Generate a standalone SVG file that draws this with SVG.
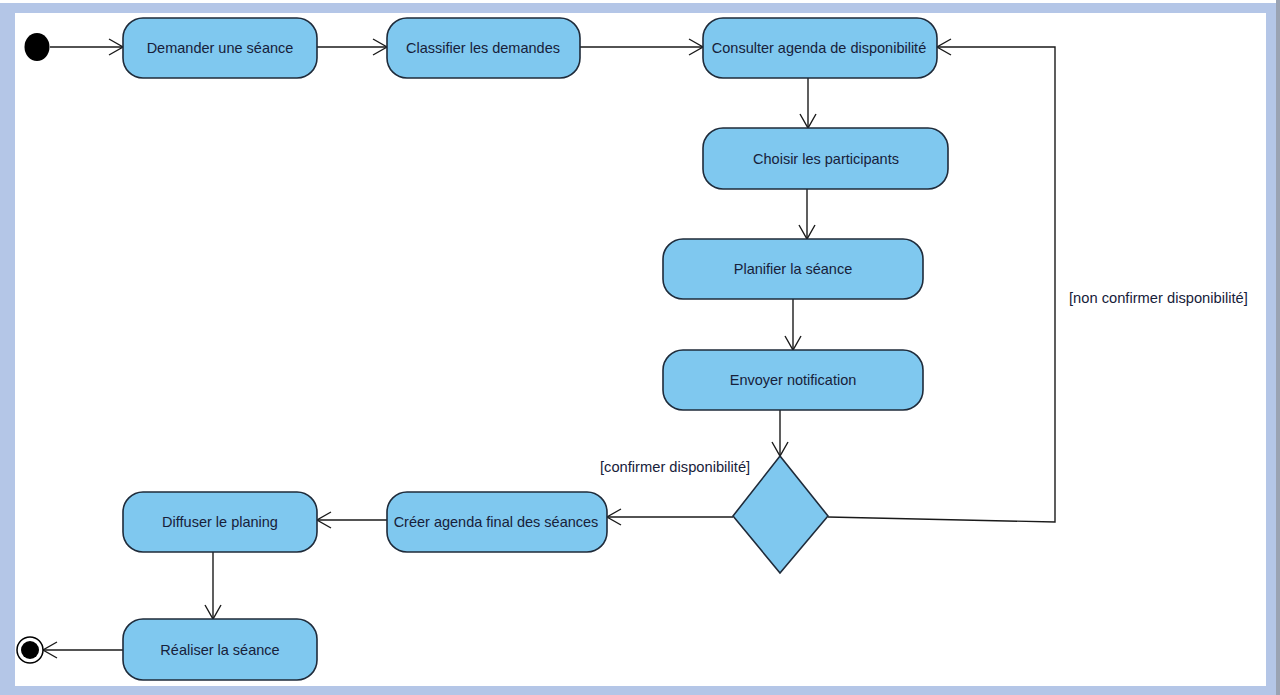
<svg xmlns="http://www.w3.org/2000/svg" width="1280" height="695" viewBox="0 0 1280 695">
  <defs>
    <style>
      .frame { fill: #b4c6e7; }
      .sheet { fill: #ffffff; }
      .action rect { fill: #7fc8ef; stroke: #1f2b3a; stroke-width: 1.6; }
      .action text, .guard { font-family: "Liberation Sans", Arial, sans-serif; font-size: 14.5px; fill: #17213a; }
      .action text { text-anchor: middle; dominant-baseline: central; }
      .guard { font-size: 14.7px; }
      .decision polygon { fill: #7fc8ef; stroke: #1f2b3a; stroke-width: 1.6; }
      #connectors path { fill: none; stroke: #1a1a1a; stroke-width: 1.4; marker-end: url(#open); }
    </style>
    <marker id="open" markerUnits="userSpaceOnUse" markerWidth="18" markerHeight="20" refX="15" refY="9" orient="auto">
      <path d="M1,1 L15,9 L1,17" fill="none" stroke="#1a1a1a" stroke-width="1.4"/>
    </marker>
  </defs>

  <!-- page frame -->
  <rect class="frame" x="0" y="3" width="1277" height="692"/>
  <rect x="1276" y="0" width="4" height="695" fill="#9aa3b3"/>
  <rect class="sheet" x="15" y="13" width="1251" height="673"/>

  <!-- connectors -->
  <g id="connectors">
    <path d="M50,47 H123"/>
    <path d="M317,47 H387"/>
    <path d="M580,47 H703"/>
    <path d="M808,78 V128"/>
    <path d="M807,189 V239"/>
    <path d="M793,299 V350"/>
    <path d="M780,410 V456"/>
    <path d="M733,517 H607"/>
    <path d="M387,520 H317"/>
    <path d="M213,552 V619"/>
    <path d="M123,650 H43"/>
    <path d="M828,517 L1055,522 V47 H937"/>
  </g>

  <!-- initial node -->
  <g id="start">
    <ellipse cx="37" cy="47" rx="12.5" ry="14" fill="#000"/>
  </g>

  <g id="demander" class="action">
    <rect x="123" y="18" width="194" height="60" rx="20"/>
    <text x="220" y="48">Demander une séance</text>
  </g>

  <g id="classifier" class="action">
    <rect x="387" y="18" width="193" height="60" rx="20"/>
    <text x="483" y="48">Classifier les  demandes</text>
  </g>

  <g id="consulter" class="action">
    <rect x="703" y="18" width="234" height="60" rx="20"/>
    <text x="819" y="48">Consulter agenda de disponibilité</text>
  </g>

  <g id="choisir" class="action">
    <rect x="703" y="128" width="245" height="61" rx="20"/>
    <text x="826" y="159">Choisir les participants</text>
  </g>

  <g id="planifier" class="action">
    <rect x="663" y="239" width="260" height="60" rx="20"/>
    <text x="793" y="269">Planifier la séance</text>
  </g>

  <g id="envoyer" class="action">
    <rect x="663" y="350" width="260" height="60" rx="20"/>
    <text x="793" y="380">Envoyer notification</text>
  </g>

  <g id="decision" class="decision">
    <polygon points="780,456 828,516 780,573 733,516"/>
  </g>

  <g id="creer" class="action">
    <rect x="387" y="492" width="220" height="60" rx="20"/>
    <text x="496" y="522">Créer agenda final des séances</text>
  </g>

  <g id="diffuser" class="action">
    <rect x="123" y="492" width="194" height="60" rx="20"/>
    <text x="220" y="522">Diffuser le planing</text>
  </g>

  <g id="realiser" class="action">
    <rect x="123" y="619" width="194" height="61" rx="20"/>
    <text x="220" y="650">Réaliser la séance</text>
  </g>

  <!-- final node -->
  <g id="end">
    <circle cx="30" cy="650" r="13" fill="#fff" stroke="#000" stroke-width="1.5"/>
    <circle cx="30" cy="650" r="9" fill="#000"/>
  </g>

  <!-- guards -->
  <g id="guards">
    <text class="guard" x="600" y="472">[confirmer disponibilité]</text>
    <text class="guard" x="1069" y="303">[non confirmer disponibilité]</text>
  </g>
</svg>
